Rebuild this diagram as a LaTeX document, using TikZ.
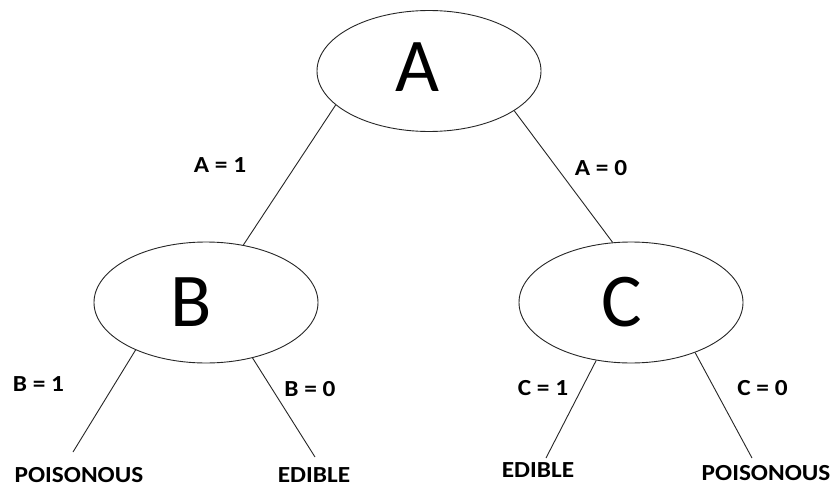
\documentclass[tikz,border=0pt]{standalone}
\usepackage{fontspec}
\setmainfont{Carlito}
\newfontfamily\lblfont[FakeStretch=1.1]{Carlito Bold}
\usetikzlibrary{shapes.geometric}
\begin{document}
\begin{tikzpicture}[x=1pt,y=-1pt,
  ell/.style={draw=black!85,line width=0.9pt,ellipse,minimum width=224pt,minimum height=121pt,inner sep=0pt},
  big/.style={anchor=base,inner sep=0pt,font=\fontsize{76}{76}\selectfont},
  lbl/.style={anchor=base,inner sep=0pt,font=\lblfont\fontsize{23}{23}\selectfont},
  edge/.style={draw=black!85,line width=0.9pt}]
\fill[white] (0,0) rectangle (835,487);
\useasboundingbox (0,0) rectangle (835,487);
% nodes
\node[ell] (A) at (429,71) {};
\node[ell] (B) at (206,302.5) {};
\node[ell] (C) at (631,302.5) {};
\node[big] (Atext) at (417.5,92) {A};
\node[big] (Btext) at (191,326.5) {B};
\node[big] (Ctext) at (621.5,326) {C};
% leaf ends
\coordinate (b1) at (73,452);
\coordinate (b0) at (315,457);
\coordinate (c1) at (546,458);
\coordinate (c0) at (752,458);
% connectors
\draw[edge] (A.200) -- (B.57);
\draw[edge] (A.335.6) -- (C.107);
\draw[edge] (B.214) -- (b1);
\draw[edge] (B.310) -- (b0);
\draw[edge] (C.239) -- (c1);
\draw[edge] (C.322.5) -- (c0);
% labels
\node[lbl] (la1) at (220,172) {A = 1};
\node[lbl] (la0) at (601,175) {A = 0};
\node[lbl] (lb1) at (38.5,391) {B = 1};
\node[lbl] (lb0) at (310,396) {B = 0};
\node[lbl] (lc1) at (543,395) {C = 1};
\node[lbl] (lc0) at (762.5,395) {C = 0};
\node[lbl] (p1) at (79,482) {POISONOUS};
\node[lbl] (e1) at (314,482.5) {EDIBLE};
\node[lbl] (e2) at (538,477) {EDIBLE};
\node[lbl] (p2) at (766,480) {POISONOUS};
\end{tikzpicture}
\end{document}
